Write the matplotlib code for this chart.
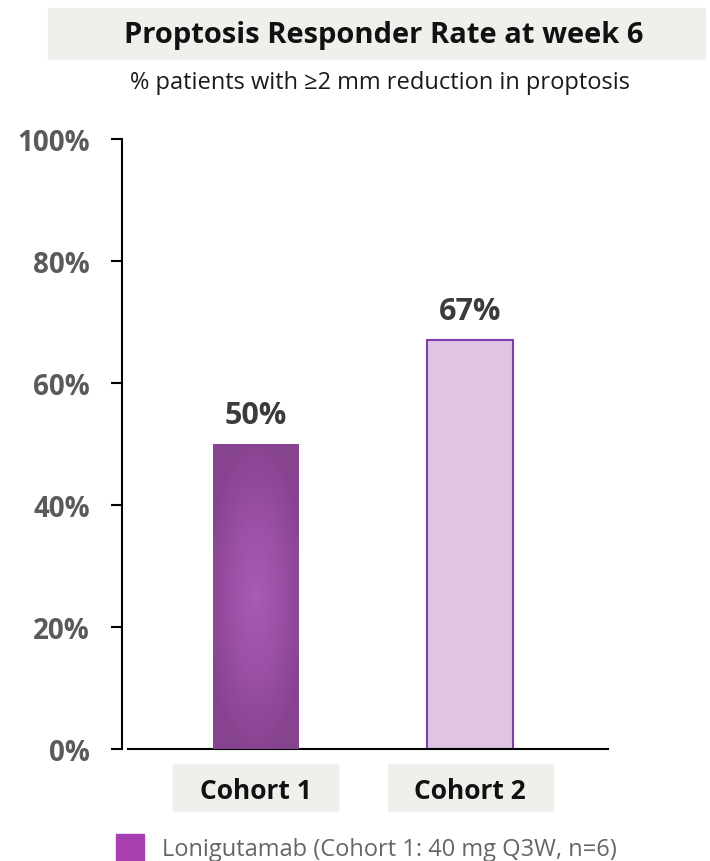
import numpy as np
import matplotlib.pyplot as plt
from matplotlib.patches import Rectangle
from matplotlib.colors import LinearSegmentedColormap

# data
categories = ['Cohort 1', 'Cohort 2']
values = [50, 67]
yticks = [0, 20, 40, 60, 80, 100]
title = 'Proptosis Responder Rate at week 6'
subtitle = '% patients with \u22652 mm reduction in proptosis'
legend_label = 'Lonigutamab (Cohort 1: 40 mg Q3W, n=6)'

plt.rcParams['font.family'] = ['Open Sans', 'DejaVu Sans']

W, H = 710, 862
fig = plt.figure(figsize=(W / 100, H / 100), dpi=100)

def fx(px):
    return px / W

def fy(py):
    return 1 - py / H

# axes placed in pixel terms: y axis at x=122, 0% at y=750, 100% at y=140
ax = fig.add_axes([fx(122), fy(750), fx(608) - fx(122), fy(140) - fy(750)])
x = np.arange(len(categories))
width = 0.40
ax.set_xlim(-0.624, 1.643)
ax.set_ylim(0, 100)

bars = ax.bar(x, values, width=width, color=['#9a50a4', '#e0c5e3'],
              edgecolor=['none', '#7e3fae'], linewidth=1.5, zorder=2)

# gradient fill on the first bar
b = bars[0]
gx = np.linspace(-1, 1, 200)
gy = np.linspace(-1, 1, 300)
XX, YY = np.meshgrid(gx, gy)
dist = np.clip(np.sqrt(XX**2 * 0.7 + YY**2 * 0.9), 0, 1)
cmap = LinearSegmentedColormap.from_list('pg', ['#a85db2', '#9a50a4', '#86438f'])
bx0, by0 = b.get_x(), b.get_y()
im = ax.imshow(dist, cmap=cmap, extent=[bx0, bx0 + b.get_width(), by0, by0 + b.get_height()],
               aspect='auto', origin='lower', zorder=3, vmin=0, vmax=1)
im.set_clip_path(b)

for xi, v in zip(x, values):
    ax.annotate('%d%%' % v, (xi, v), xytext=(0, 15), textcoords='offset points',
                ha='center', va='baseline', fontsize=22, fontweight='bold', color='#3b3b3b')

# axes styling
for s in ['top', 'right']:
    ax.spines[s].set_visible(False)
ax.spines['left'].set_linewidth(1.5)
ax.spines['bottom'].set_linewidth(1.5)
ax.spines['bottom'].set_bounds(-0.596, 1.643)
ax.set_yticks(yticks)
ax.set_yticklabels(['%d%%' % t for t in yticks], fontsize=20, fontweight='bold', color='#5a5a5a')
ax.tick_params(axis='y', length=8, width=1.5, pad=15)
ax.set_xticks([])

# title band
fig.patches.append(Rectangle((fx(48), fy(60)), fx(705) - fx(48), fy(9) - fy(60),
                             transform=fig.transFigure, color='#efefeb', zorder=0))
fig.text(fx(384), fy(35), title, ha='center', va='center', fontsize=21,
         fontweight='bold', color='#111111')
fig.text(fx(380), fy(89), subtitle, ha='center', va='baseline', fontsize=17, color='#1a1a1a')

# category label boxes under each bar
for xi, c in zip(x, categories):
    cx = fig.transFigure.inverted().transform(ax.transData.transform((xi, 0)))[0]
    fig.patches.append(Rectangle((cx - fx(82.5), fy(812)), fx(165), fy(765) - fy(812),
                                 transform=fig.transFigure, color='#efefeb', zorder=0))
    fig.text(cx, fy(799), c, ha='center', va='baseline', fontsize=19,
             fontweight='bold', color='#111111')

# legend
fig.patches.append(Rectangle((fx(116), fy(863)), fx(28), fy(835) - fy(863),
                             transform=fig.transFigure, color='#a83fb0'))
fig.text(fx(162), fy(856), legend_label, ha='left', va='baseline', fontsize=17, color='#666666')

fig.savefig('out.png', dpi=100)
